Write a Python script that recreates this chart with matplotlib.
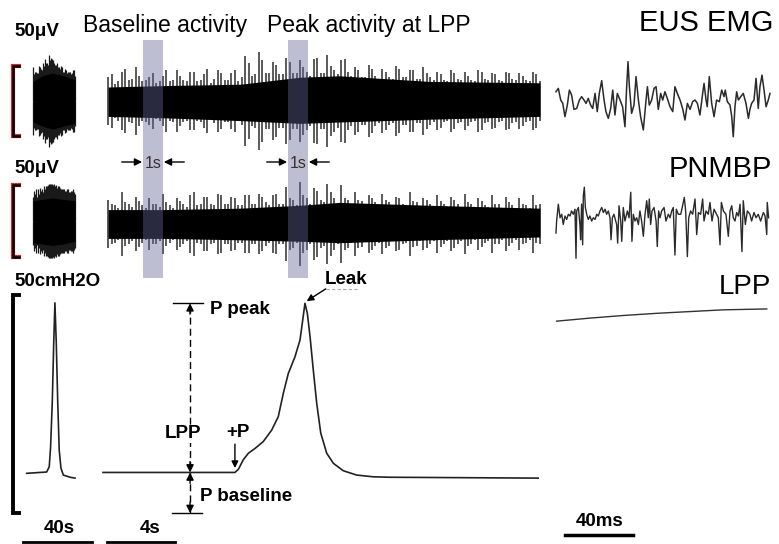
import numpy as np
import matplotlib
matplotlib.use("Agg")
import matplotlib.pyplot as plt
import matplotlib.transforms as mtrans
import matplotlib.patheffects as pe
from matplotlib.patches import Rectangle

plt.rcParams['font.family'] = ['Liberation Sans', 'DejaVu Sans']

# ---- data ----
# EMG envelopes, middle (4 s) panel: spike heights above / below the trace centre, uV
eus_top = [17,12,21,15,24,14,17,13,18,14, 22,15,21,14,19,13,22,15,20,14,
           32,18,35,20,28,19,31,20,29,21, 30,20,33,22,29,21,24,17,26,18,
           23,17,25,17,22,16,24,17,21,15, 22,16,21,15,22,16,20,15,21,16, 20,15,21,14]
eus_bot = [19,14,23,16,18,15,20,14,22,15, 18,14,21,15,23,16,20,15,22,17,
           27,19,29,20,26,19,28,20,24,18, 31,20,25,19,30,18,22,17,23,16,
           21,16,23,17,22,16,20,15,19,14, 20,15,18,14,21,15,19,14,20,15, 18,14,19,15]
pn_top = [17,13,22,14,19,13,18,14,21,13, 18,14,20,13,19,14,21,14,19,13,
          20,14,21,15,20,14,26,17,29,18, 25,17,28,18,27,17,22,16,20,15,
          21,15,19,14,22,15,18,14,20,14, 19,14,21,14,18,13,20,14,19,13, 18,13,20,14]
pn_bot = [14,11,15,12,16,11,14,12,15,11, 16,12,22,14,19,13,20,14,18,13,
          20,14,19,13,21,14,18,13,20,14, 23,15,22,14,18,13,17,12,18,13,
          17,12,18,13,16,12,17,12,16,12, 17,12,15,11,16,12,14,11,15,11, 14,11,13,10]
core_t = [0.3, 3.6, 8.1, 11.6, 13.9, 19.2, 25.7]
eus_core_top = [10, 11, 12, 17, 18, 14, 13]
eus_core_bot = [11, 12, 14, 16, 15, 13, 11]
pn_core_top = [10, 10, 11, 13, 15, 13, 11]
pn_core_bot = [10, 10, 11, 12, 13, 11, 9]

# EMG bursts, left (40 s) panel
eusL_top = [24,21,20,25,23,27,30,27,33,31,29,26,27,24,25,21,23,20,21,19,22,18]
eusL_bot = [19,21,20,24,22,25,27,26,29,30,27,26,24,23,24,21,22,21,21,20,22,19]
pnL_top = [17,19,17,19,21,20,22,24,26,26,25,24,23,24,22,22,21,22,20,21,22,19]
pnL_bot = [21,22,22,23,22,24,24,25,26,26,26,25,24,23,22,22,21,22,20,21,20,19]
coreL_t = [7.6, 13, 19, 25, 32]
eusL_core_top = [14, 18, 20, 18, 15]
eusL_core_bot = [15, 18, 20, 18, 16]
pnL_core_top = [14, 15, 16, 15, 14]
pnL_core_bot = [15, 16, 17, 16, 14]

# expanded EUS EMG (ms, uV)
eus_zoom = [(3.5,6.6),(4.9,9.0),(6.3,0.7),(7.5,-1.7),(8.8,-11.2),(10.2,-2.9),(11.4,7.8),(12.7,4.3),
            (14.1,-6.0),(15.7,-5.3),(17.3,0.7),(18.6,3.1),(20.0,0.7),(21.2,-1.7),(22.5,1.9),(23.9,-2.9),
            (25.1,-5.3),(26.5,5.4),(27.8,-7.6),(29.0,5.4),(30.4,14.5),(31.8,0.7),(32.9,-7.6),(34.3,-12.4),
            (35.7,-5.3),(36.9,7.8),(38.2,-10.0),(39.6,5.4),(41.2,0.7),(42.7,-4.1),(44.1,-18.4),(45.1,10.2),
            (45.9,28.1),(46.7,10.2),(48.0,-8.8),(49.4,-2.9),(50.6,17.4),(52.0,0.7),(53.3,-11.2),(54.9,-20.7),
            (56.5,0.7),(57.3,10.2),(58.4,-2.9),(59.8,0.7),(61.2,9.0),(62.4,10.2),(63.7,-6.0),(65.1,5.4),
            (66.3,0.7),(67.6,6.6),(69.0,1.9),(70.6,-4.1),(72.2,-7.6),(73.5,10.2),(74.9,5.4),(76.5,0.7),
            (78.0,-5.3),(79.4,-13.6),(80.8,-1.7),(82.4,-6.0),(83.9,-0.5),(85.3,0.7),(86.7,-1.7),(88.2,-10.0),
            (89.8,5.4),(90.6,12.6),(91.8,0.7),(92.5,-4.1),(93.7,17.4),(95.1,-1.7),(96.5,-11.2),(98.0,0.7),
            (99.6,-0.5),(101.0,7.8),(102.4,3.1),(103.1,7.8),(104.3,-0.5),(105.9,-2.9),(106.9,-11.2),(107.8,-25.5),
            (108.8,-4.1),(109.8,6.6),(110.8,0.7),(112.2,3.1),(113.7,5.4),(115.3,-1.7),(116.7,-12.4),(117.6,-6.0),
            (118.6,-1.7),(120.0,0.7),(121.2,16.2),(122.5,-5.3),(123.5,10.2),(124.7,18.5),(125.9,7.8),(127.1,-4.1),
            (128.4,0.7),(129.4,5.4)]
# expanded PNMBP (ms, uV)
pn_zoom = [(3.5,-11.8),(3.9,-3.5),(4.9,8.2),(5.9,-1.2),(6.9,1.2),(7.8,-5.9),(8.8,0),(9.8,-2.4),(10.8,1.2),
           (11.8,0),(12.7,3.5),(13.7,1.2),(14.7,4.7),(15.3,-29.4),(15.7,3.5),(16.7,5.9),(17.6,-5.9),(18.0,-16.5),
           (18.6,8.2),(19.2,-20.0),(19.6,14.1),(20.2,20.0),(20.8,5.9),(21.6,1.2),(22.5,-2.4),(23.5,0),(24.5,-3.5),
           (25.5,-1.2),(26.5,-2.4),(27.5,1.2),(28.4,0),(29.4,3.5),(30.4,5.9),(31.4,2.4),(32.4,4.7),(33.3,1.2),
           (34.3,3.5),(35.3,-1.2),(35.9,-16.5),(36.7,-1.2),(37.6,1.2),(39.2,-5.9),(39.8,-18.8),(40.6,7.1),
           (41.6,-3.5),(42.2,-17.6),(43.1,5.9),(44.1,-3.5),(45.5,3.5),(46.5,-1.2),(47.5,16.5),(48.2,-17.6),
           (49.0,1.2),(50.0,-3.5),(51.0,-1.2),(52.0,-5.9),(52.9,3.5),(53.9,-3.5),(54.9,-14.1),(55.9,1.2),
           (56.9,10.6),(57.8,-1.2),(58.4,11.8),(59.2,-5.9),(60.0,3.5),(61.2,5.9),(62.4,-3.5),(63.1,-21.2),
           (63.9,3.5),(64.7,-1.2),(65.7,3.5),(67.1,5.9),(68.2,-3.5),(69.6,1.2),(70.6,-1.2),(71.6,3.5),
           (72.5,5.9),(73.5,-27.1),(74.3,4.7),(75.5,1.2),(76.9,1.2),(78.0,7.1),(79.0,12.9),(79.8,3.5),
           (80.8,-28.2),(81.6,-1.2),(82.7,3.5),(83.9,1.2),(85.3,11.8),(86.3,-12.9),(87.3,2.4),(88.6,1.2),
           (89.8,11.8),(90.6,-3.5),(91.8,3.5),(93.1,1.2),(94.1,9.4),(95.3,-3.5),(96.5,4.7),(98.0,1.2),
           (99.0,-1.2),(100.0,-20.0),(100.8,9.4),(102.0,3.5),(103.5,1.2),(104.9,-14.1),(105.9,3.5),(106.9,7.1),
           (107.8,-1.2),(108.8,-3.5),(109.8,2.4),(110.8,0),(111.8,8.2),(112.9,-24.7),(113.7,10.6),(114.9,-5.9),
           (116.1,3.5),(117.6,1.2),(118.6,-3.5),(120.0,2.4),(121.2,-1.2),(122.5,1.2),(123.9,-3.5),(125.5,2.4),
           (126.5,0),(127.5,-12.9),(127.8,9.4),(128.6,-1.2)]

# bladder pressure (s, cmH2O)
press_t = [0, 3.0, 7.76, 7.96, 8.25, 8.55, 8.94, 9.43, 9.92, 10.31, 10.61, 10.90, 11.29, 11.59,
           11.75, 11.88, 12.02, 12.18, 12.37, 12.57, 12.81, 13.16, 13.55, 14.13, 14.92, 15.90, 16.88, 25.6]
press_p = [9.3, 9.3, 9.3, 10.0, 12.2, 13.7, 14.8, 16.4, 19.0, 22.1, 27.5, 32.0, 35.8, 39.7,
           44.3, 48.1, 45.8, 40.4, 32.8, 25.2, 18.3, 13.7, 11.4, 9.7, 8.7, 8.3, 8.2, 8.0]
pressL_t = [3.9, 15.5, 17.0, 17.8, 18.8, 19.6, 20.3, 21.1, 21.9, 22.8, 23.8, 25.2, 29.1, 32.0]
pressL_p = [9.1, 9.4, 10.6, 15.2, 25.9, 38.9, 48.2, 38.9, 25.9, 14.4, 10.3, 8.7, 8.2, 8.0]
pressR_t = [3.9, 23.5, 43.1, 62.8, 82.4, 102.0, 127.5]   # ms
pressR_p = [44.0, 44.7, 45.3, 45.8, 46.2, 46.6, 46.8]

windows = [2.35, 10.88]   # start of the 1 s analysis windows (s)
win_len = 1.18
emg_bar, p_bar = 50, 50

# ---- layout helpers (pixel boxes) ----
W, H = 779, 544
fig = plt.figure(figsize=(W/100, H/100), dpi=100)

def box(x0, x1, y0, y1, xo, xs, yo, ys):
    ax = fig.add_axes([x0/W, 1-y1/H, (x1-x0)/W, (y1-y0)/H])
    ax.set_xlim((x0-xo)/xs, (x1-xo)/xs)
    ax.set_ylim((yo-y1)/ys, (yo-y0)/ys)
    ax.axis('off'); ax.patch.set_alpha(0)
    return ax

colL = (2, 100, 20, 1.72)
colM = (100, 548, 103, 17.0)
colR = (548, 779, 550, 1.7)

eL = box(colL[0], colL[1], 40, 160, colL[2], colL[3], 101, 1.4)
eM = box(colM[0], colM[1], 40, 160, colM[2], colM[3], 101, 1.4)
eR = box(colR[0], colR[1], 40, 160, colR[2], colR[3], 101, 1.4)
nL = box(colL[0], colL[1], 165, 280, colL[2], colL[3], 221, 1.44)
nM = box(colM[0], colM[1], 165, 280, colM[2], colM[3], 224, 1.44)
nR = box(colR[0], colR[1], 165, 280, colR[2], colR[3], 216, 1.44)
pL = box(colL[0], colL[1], 262, 544, colL[2], colL[3], 513, 4.36)
pM = box(colM[0], colM[1], 262, 544, colM[2], colM[3], 513, 4.36)
pR = box(colR[0], colR[1], 262, 544, colR[2], colR[3], 513, 4.36)

def band(ax, t0, t1, top, bot, ct, ctop, cbot, lw, col):
    # dense EMG: thin spikes to the read tip heights over a solid black core
    n = len(top)
    t = np.linspace(t0, t1, n)
    th = t[:-1] + (t1 - t0) / (n - 1) / 2
    top = np.array(top); bot = np.array(bot)
    ax.vlines(t, 0, top, color=col, lw=lw)
    ax.vlines(th, 0, bot[:-1], color=col, lw=lw)
    ax.vlines(th, -bot[:-1], 0, color=col, lw=lw)
    ax.vlines(t, -top, 0, color=col, lw=lw)
    ax.fill_between(ct, -np.array(cbot), ctop, color='k', lw=0, zorder=3)

band(eM, core_t[0], core_t[-1], eus_top, eus_bot, core_t, eus_core_top, eus_core_bot, 1.1, '#2e2e2e')
band(nM, core_t[0], core_t[-1], pn_top, pn_bot, core_t, pn_core_top, pn_core_bot, 1.1, '#2e2e2e')
band(eL, coreL_t[0], coreL_t[-1], eusL_top, eusL_bot, coreL_t, eusL_core_top, eusL_core_bot, 0.9, '#1a1a1a')
band(nL, coreL_t[0], coreL_t[-1], pnL_top, pnL_bot, coreL_t, pnL_core_top, pnL_core_bot, 0.9, '#1a1a1a')

ez = np.array(eus_zoom); nz = np.array(pn_zoom)
eR.plot(ez[:, 0], ez[:, 1], color='#2a2a2a', lw=1.1)
nR.plot(nz[:, 0], nz[:, 1], color='#2a2a2a', lw=1.0)

pM.plot(press_t, press_p, color='#222', lw=1.2)
pL.plot(pressL_t, pressL_p, color='#222', lw=1.2)
pR.plot(pressR_t, pressR_p, color='#333', lw=1.0)

# scale brackets
glow = [pe.Stroke(linewidth=3.0, foreground='#c83030'), pe.Normal()]
for ax in (eL, nL):
    ax.plot([-0.4, -4.0, -4.0, -0.4], [-emg_bar/2, -emg_bar/2, emg_bar/2, emg_bar/2],
            color='k', lw=1.8, solid_joinstyle='miter', path_effects=glow)
pL.plot([-0.4, -4.0, -4.0, -0.4], [0, 0, p_bar, p_bar], color='k', lw=2.8,
        solid_joinstyle='miter')

# time bars
pL.plot([1.7, 41.7], [-6.65, -6.65], color='k', lw=2)
pL.text(22.7, -4.5, '40s', ha='center', fontsize=13.5, fontweight='bold')
pM.plot([0.24, 4.24], [-6.65, -6.65], color='k', lw=2)
pM.text(2.76, -4.5, '4s', ha='center', fontsize=13.5, fontweight='bold')
pR.plot([8.8, 48.8], [-5.0, -5.0], color='k', lw=2.5)
pR.text(29.4, -3.0, '40ms', ha='center', fontsize=13.5, fontweight='bold')

# LPP annotation
p_base = press_p[0]
p_peak = max(press_p)
t_peak = press_t[press_p.index(p_peak)]
t_rise = press_t[2]
tx = 5.12
pM.plot([tx, tx], [0, p_peak], color='k', lw=1, ls=(0, (5, 3)))
pM.plot([4.1, 5.9], [p_peak, p_peak], color='k', lw=1)
pM.plot([4.05, 5.85], [0, 0], color='k', lw=1)
ah = dict(arrowstyle='-|>', color='k', lw=1, mutation_scale=11, shrinkA=0, shrinkB=0)
for tip, tail in [(p_peak, p_peak - 2.5), (p_base, p_base + 2.5), (p_base, p_base - 2.5), (0, 2.5)]:
    pM.annotate('', xy=(tx, tip), xytext=(tx, tail), arrowprops=ah)
bold = dict(fontsize=13.5, fontweight='bold')
pM.text(6.29, 45.6, 'P peak', **bold)
pM.text(4.71, 17.1, 'LPP', ha='center',
        bbox=dict(facecolor='white', edgecolor='none', pad=0.5), **bold)
pM.text(7.94, 17.5, '+P', ha='center', **bold)
pM.annotate('', xy=(t_rise, p_base + 1.0), xytext=(t_rise, p_base + 6.5),
            arrowprops=dict(arrowstyle='-|>', color='k', lw=1, mutation_scale=10, shrinkA=0, shrinkB=0))
pM.text(5.71, 2.8, 'P baseline', **bold)
pM.text(13.06, 52.5, 'Leak', **bold)
pM.annotate('', xy=(t_peak + 0.1, p_peak + 0.5), xytext=(13.1, 51.4),
            arrowprops=dict(arrowstyle='-|>', color='k', lw=1, mutation_scale=10, shrinkA=0, shrinkB=0))
pM.plot([13.1, 15.0], [51.4, 51.4], color='#aaa', lw=0.8, ls=(0, (3, 2)))

# overlay in pixel coordinates for labels and the analysis windows
ov = fig.add_axes([0, 0, 1, 1], zorder=10)
ov.set_xlim(0, W); ov.set_ylim(H, 0); ov.axis('off'); ov.patch.set_alpha(0)
blend = mtrans.blended_transform_factory(eM.transData, ov.transData)
for w0 in windows:
    ov.add_patch(Rectangle((w0, 40), win_len, 238, transform=blend,
                           facecolor='#646498', alpha=0.42, lw=0))
    wc = w0 + win_len/2
    ov.text(wc, 167.7, '1s', transform=blend, ha='center', fontsize=11.5, color='#3b2f2f')
    a1 = dict(arrowstyle='-|>', color='k', lw=1, mutation_scale=11, shrinkA=0, shrinkB=0)
    ov.annotate('', xy=(w0 - 0.05, 162), xytext=(w0 - 1.25, 162), xycoords=blend,
                textcoords=blend, arrowprops=a1)
    ov.annotate('', xy=(w0 + win_len + 0.05, 162), xytext=(w0 + win_len + 1.25, 162),
                xycoords=blend, textcoords=blend, arrowprops=a1)

ov.text(14, 36, '50μV', **bold)
ov.text(14, 172.7, '50μV', **bold)
ov.text(14, 286, '50cmH2O', **bold)
ov.text(165, 31.7, 'Baseline activity', ha='center', fontsize=16.5)
ov.text(369, 31.7, 'Peak activity at LPP', ha='center', fontsize=16.5)
ov.text(773, 30.7, 'EUS EMG', ha='right', fontsize=21)
ov.text(772, 176.7, 'PNMBP', ha='right', fontsize=21)
ov.text(771, 294.3, 'LPP', ha='right', fontsize=20)

fig.savefig('out.png', dpi=100)
